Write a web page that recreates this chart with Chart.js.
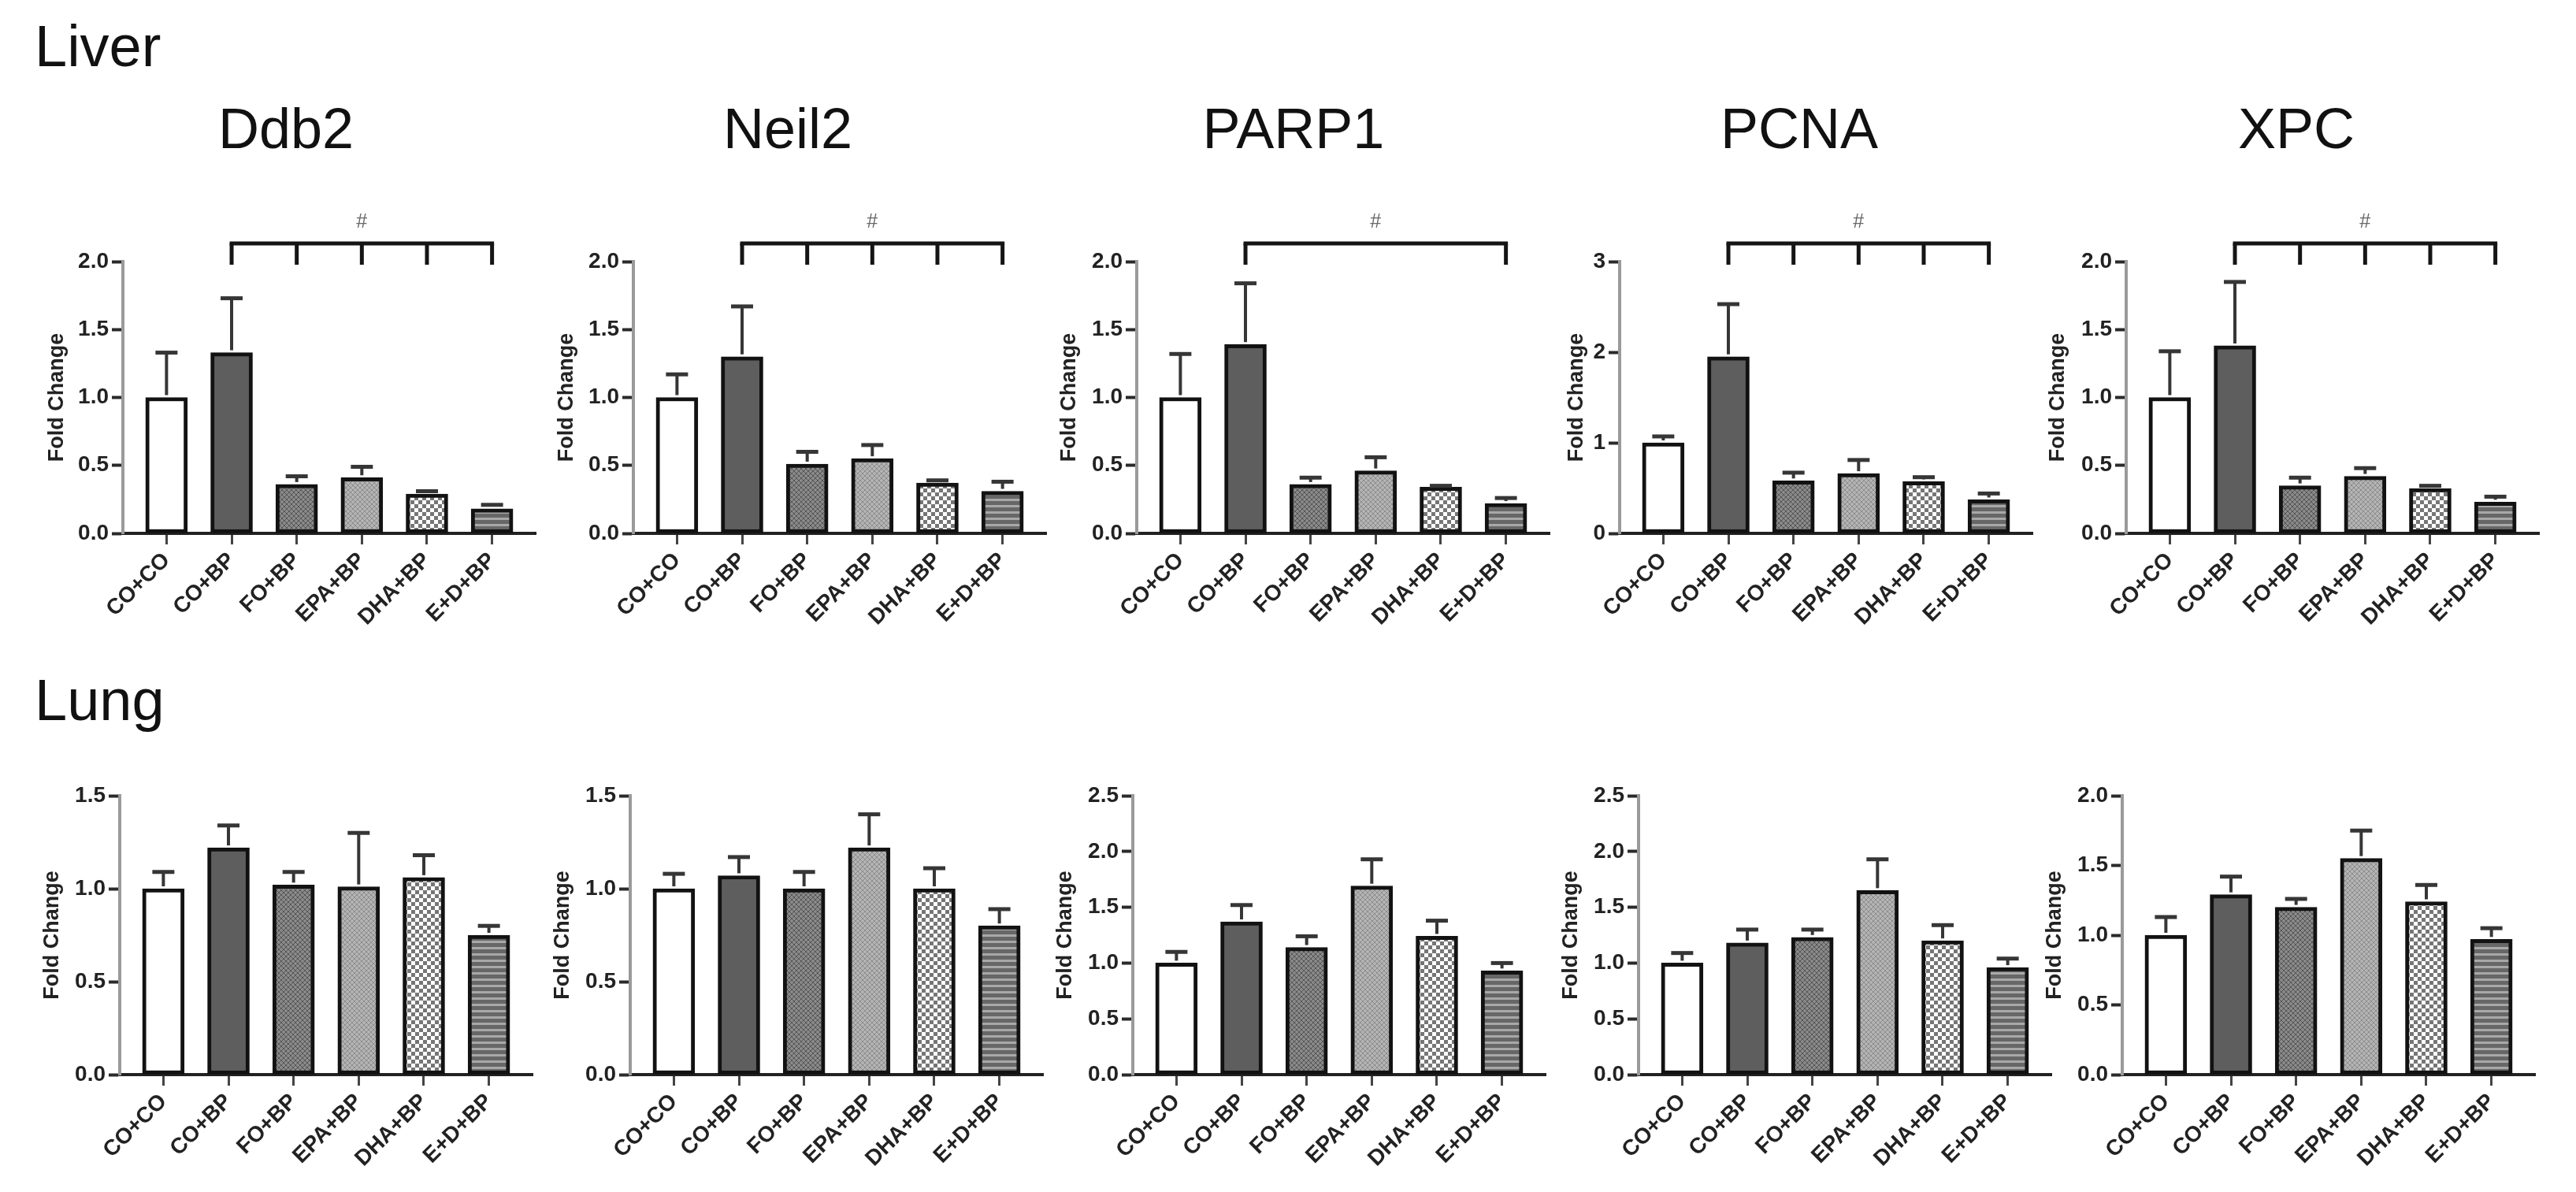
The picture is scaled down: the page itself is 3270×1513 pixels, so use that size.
<!DOCTYPE html>
<html>
<head>
<meta charset="utf-8">
<script src="https://cdn.jsdelivr.net/npm/chart.js@4.4.1/dist/chart.umd.min.js"></script>
<style>
  html, body { margin: 0; padding: 0; background: #ffffff; }
  body { width: 3270px; height: 1513px; position: relative; overflow: hidden;
         font-family: "Liberation Sans", Arial, Helvetica, sans-serif; }
  .tissue { position: absolute; left: 44px; font-size: 74px; line-height: 74px; color: #111; }
  canvas { position: absolute; }
</style>
</head>
<body>
<div class="tissue" style="top:22px">Liver</div>
<div class="tissue" style="top:852px">Lung</div>

<canvas id="liver-ddb2"></canvas>
<canvas id="liver-neil2"></canvas>
<canvas id="liver-parp1"></canvas>
<canvas id="liver-pcna"></canvas>
<canvas id="liver-xpc"></canvas>
<canvas id="lung-ddb2"></canvas>
<canvas id="lung-neil2"></canvas>
<canvas id="lung-parp1"></canvas>
<canvas id="lung-pcna"></canvas>
<canvas id="lung-xpc"></canvas>

<script>
// Treatment groups (x axis)
const groups = ['CO+CO', 'CO+BP', 'FO+BP', 'EPA+BP', 'DHA+BP', 'E+D+BP'];

// Liver - mean fold change and SEM
const liverDdb2Mean  = [1.00, 1.33, 0.36, 0.41, 0.29, 0.18];
const liverDdb2Sem   = [0.33, 0.40, 0.06, 0.08, 0.02, 0.03];
const liverNeil2Mean = [1.00, 1.30, 0.51, 0.55, 0.37, 0.31];
const liverNeil2Sem  = [0.17, 0.37, 0.09, 0.10, 0.02, 0.07];
const liverParp1Mean = [1.00, 1.39, 0.36, 0.46, 0.34, 0.22];
const liverParp1Sem  = [0.32, 0.45, 0.05, 0.10, 0.01, 0.04];
const liverPcnaMean  = [1.00, 1.95, 0.58, 0.66, 0.57, 0.37];
const liverPcnaSem   = [0.07, 0.58, 0.09, 0.15, 0.05, 0.07];
const liverXpcMean   = [1.00, 1.38, 0.35, 0.42, 0.33, 0.23];
const liverXpcSem    = [0.34, 0.47, 0.06, 0.06, 0.02, 0.04];

// Lung - mean fold change and SEM
const lungDdb2Mean  = [1.00, 1.22, 1.02, 1.01, 1.06, 0.75];
const lungDdb2Sem   = [0.09, 0.12, 0.07, 0.29, 0.12, 0.05];
const lungNeil2Mean = [1.00, 1.07, 1.00, 1.22, 1.00, 0.80];
const lungNeil2Sem  = [0.08, 0.10, 0.09, 0.18, 0.11, 0.09];
const lungParp1Mean = [1.00, 1.37, 1.14, 1.69, 1.24, 0.93];
const lungParp1Sem  = [0.10, 0.15, 0.10, 0.24, 0.14, 0.07];
const lungPcnaMean  = [1.00, 1.18, 1.23, 1.65, 1.20, 0.96];
const lungPcnaSem   = [0.09, 0.12, 0.07, 0.28, 0.14, 0.08];
const lungXpcMean   = [1.00, 1.29, 1.20, 1.55, 1.24, 0.97];
const lungXpcSem    = [0.13, 0.13, 0.06, 0.20, 0.12, 0.08];

// Y axis ranges [max, step]
const liverAxes = { ddb2: [2, 0.5], neil2: [2, 0.5], parp1: [2, 0.5], pcna: [3, 1], xpc: [2, 0.5] };
const lungAxes  = { ddb2: [1.5, 0.5], neil2: [1.5, 0.5], parp1: [2.5, 0.5], pcna: [2.5, 0.5], xpc: [2, 0.5] };

// Significance brackets (group indexes) on the liver panels
const bracketAll = [1, 2, 3, 4, 5];
const bracketEnds = [1, 5];

Chart.defaults.font.family = '"Liberation Sans", Arial, Helvetica, sans-serif';
Chart.defaults.color = '#222222';

// Layout constants
const plotWidth = 524;
const xAxisHeight = 130;
const edgePad = 30;
const catPad = 0.67;

// Bar fills: white, dark grey, hatched, light hatched, checker, stripes
function makePattern(size, draw) {
    const c = document.createElement('canvas');
    c.width = size[0];
    c.height = size[1];
    const g = c.getContext('2d');
    draw(g, size[0], size[1]);
    return g.createPattern(c, 'repeat');
}

function hatch(base, line) {
    return makePattern([6, 6], (g, w, h) => {
        g.fillStyle = base;
        g.fillRect(0, 0, w, h);
        g.fillStyle = line;
        for (let i = 0; i < 6; i++) {
            g.fillRect(i, i, 1, 1);
            g.fillRect(5 - i, i, 1, 1);
        }
    });
}

const barFills = [
    '#ffffff',
    '#5e5e5e',
    hatch('#8a8a8a', '#555555'),
    hatch('#b4b4b4', '#8c8c8c'),
    makePattern([10, 10], (g) => {
        g.fillStyle = '#ffffff';
        g.fillRect(0, 0, 10, 10);
        g.fillStyle = '#767676';
        g.fillRect(0, 0, 5, 5);
        g.fillRect(5, 5, 5, 5);
    }),
    makePattern([4, 8], (g) => {
        g.fillStyle = '#676767';
        g.fillRect(0, 0, 4, 5);
        g.fillStyle = '#a8a8a8';
        g.fillRect(0, 5, 4, 3);
    })
];

// Error bars (upper SEM only, with cap)
const errorBarsPlugin = {
    id: 'errorBars',
    afterDatasetsDraw(chart, args, opts) {
        const { ctx } = chart;
        const x = chart.scales.x;
        const y = chart.scales.y;
        const points = chart.data.datasets[0].data;
        ctx.save();
        ctx.strokeStyle = '#363636';
        points.forEach((p, i) => {
            const px = x.getPixelForValue(p.x);
            const yBar = y.getPixelForValue(p.y);
            const yTop = y.getPixelForValue(p.y + opts.sem[i]);
            ctx.lineWidth = 4;
            ctx.beginPath();
            ctx.moveTo(px, yBar - 3);
            ctx.lineTo(px, yTop);
            ctx.stroke();
            ctx.lineWidth = 5;
            ctx.beginPath();
            ctx.moveTo(px - 14, yTop);
            ctx.lineTo(px + 14, yTop);
            ctx.stroke();
        });
        ctx.restore();
    }
};

// Bracket with "#" above the liver panels
const bracketPlugin = {
    id: 'bracket',
    afterDraw(chart, args, opts) {
        if (!opts.groups) return;
        const { ctx, chartArea } = chart;
        const x = chart.scales.x;
        const xs = opts.groups.map(i => x.getPixelForValue(i));
        const yLine = chartArea.top - 23;
        const yEnd = chartArea.top + 4;
        ctx.save();
        ctx.strokeStyle = '#151515';
        ctx.lineWidth = 5;
        ctx.lineCap = 'square';
        ctx.beginPath();
        ctx.moveTo(xs[0], yLine);
        ctx.lineTo(xs[xs.length - 1], yLine);
        ctx.stroke();
        ctx.lineCap = 'butt';
        xs.forEach(px => {
            ctx.beginPath();
            ctx.moveTo(px, yLine);
            ctx.lineTo(px, yEnd);
            ctx.stroke();
        });
        ctx.fillStyle = '#666666';
        ctx.font = '25px "Liberation Sans", Arial, sans-serif';
        ctx.textAlign = 'center';
        ctx.textBaseline = 'middle';
        ctx.fillText('#', (xs[0] + xs[xs.length - 1]) / 2, yLine - 27);
        ctx.restore();
    }
};

// Build one bar panel
function createPanel(canvasId, cfg) {
    const endX = cfg.axisX + plotWidth;
    const yWidth = cfg.gene ? 2 * cfg.axisX + plotWidth - 2 * cfg.titleCenter : 110;
    const left = cfg.axisX - yWidth - edgePad;
    const width = endX + edgePad - left;
    const height = cfg.chartBottom + xAxisHeight + 5 - cfg.canvasTop;
    const yTitlePad = yWidth - cfg.titleGap - 16.2;

    const canvas = document.getElementById(canvasId);
    canvas.width = width;
    canvas.height = height;
    canvas.style.left = left + 'px';
    canvas.style.top = cfg.canvasTop + 'px';

    const titleTop = 25;
    const titleBottom = cfg.chartTop - cfg.canvasTop - titleTop - 72 * 1.2;

    return new Chart(canvas, {
        type: 'bar',
        data: {
            datasets: [{
                data: cfg.means.map((v, i) => ({ x: i, y: v })),
                backgroundColor: barFills,
                borderColor: '#121212',
                borderWidth: 5,
                borderSkipped: false,
                barThickness: 53
            }]
        },
        options: {
            responsive: false,
            animation: false,
            layout: {
                padding: {
                    left: edgePad,
                    right: edgePad,
                    top: cfg.gene ? 0 : cfg.chartTop - cfg.canvasTop,
                    bottom: 5
                }
            },
            plugins: {
                legend: { display: false },
                tooltip: { enabled: false },
                title: {
                    display: !!cfg.gene,
                    text: cfg.gene || '',
                    color: '#111111',
                    font: { size: 72, weight: 'normal', lineHeight: 1.2 },
                    padding: { top: titleTop, bottom: titleBottom }
                },
                errorBars: { sem: cfg.sems },
                bracket: { groups: cfg.bracket || null }
            },
            scales: {
                x: {
                    type: 'linear',
                    offset: false,
                    min: -catPad,
                    max: groups.length - 1 + catPad,
                    afterFit: (scale) => { scale.height = xAxisHeight; },
                    border: { display: true, color: '#222222', width: 4 },
                    grid: {
                        display: true,
                        offset: false,
                        drawOnChartArea: false,
                        drawTicks: true,
                        tickLength: 14,
                        tickColor: '#444444',
                        tickWidth: 3
                    },
                    ticks: {
                        stepSize: 1,
                        includeBounds: false,
                        autoSkip: false,
                        minRotation: 45,
                        maxRotation: 45,
                        padding: 4,
                        color: '#222222',
                        font: { size: 28, weight: 'bold' },
                        callback: (v) => groups[v]
                    }
                },
                y: {
                    min: 0,
                    max: cfg.axis[0],
                    afterFit: (scale) => { scale.width = yWidth; },
                    border: { display: true, color: '#9a9a9a', width: 4 },
                    grid: {
                        display: true,
                        drawOnChartArea: false,
                        drawTicks: true,
                        tickLength: 14,
                        tickColor: '#2a2a2a',
                        tickWidth: 4
                    },
                    ticks: {
                        stepSize: cfg.axis[1],
                        padding: 4,
                        color: '#222222',
                        font: { size: 28, weight: 'bold' },
                        callback: (v) => cfg.axis[1] < 1 ? v.toFixed(1) : String(v)
                    },
                    title: {
                        display: true,
                        text: 'Fold Change',
                        color: '#222222',
                        font: { size: 27, weight: 'bold', lineHeight: 1.2 },
                        padding: { top: yTitlePad, bottom: 0 }
                    }
                }
            }
        },
        plugins: [errorBarsPlugin, bracketPlugin]
    });
}

// Liver row
const liverRow = { canvasTop: 100, chartTop: 332, chartBottom: 677 };
createPanel('liver-ddb2',  { ...liverRow, gene: 'Ddb2',  axisX: 156,  titleCenter: 363,  titleGap: 83, means: liverDdb2Mean,  sems: liverDdb2Sem,  axis: liverAxes.ddb2,  bracket: bracketAll });
createPanel('liver-neil2', { ...liverRow, gene: 'Neil2', axisX: 804,  titleCenter: 1000, titleGap: 84, means: liverNeil2Mean, sems: liverNeil2Sem, axis: liverAxes.neil2, bracket: bracketAll });
createPanel('liver-parp1', { ...liverRow, gene: 'PARP1', axisX: 1443, titleCenter: 1642, titleGap: 85, means: liverParp1Mean, sems: liverParp1Sem, axis: liverAxes.parp1, bracket: bracketEnds });
createPanel('liver-pcna',  { ...liverRow, gene: 'PCNA',  axisX: 2056, titleCenter: 2284, titleGap: 54, means: liverPcnaMean,  sems: liverPcnaSem,  axis: liverAxes.pcna,  bracket: bracketAll });
createPanel('liver-xpc',   { ...liverRow, gene: 'XPC',   axisX: 2699, titleCenter: 2915, titleGap: 86, means: liverXpcMean,   sems: liverXpcSem,   axis: liverAxes.xpc,   bracket: bracketAll });

// Lung row
const lungRow = { canvasTop: 965, chartTop: 1010, chartBottom: 1364 };
createPanel('lung-ddb2',  { ...lungRow, axisX: 152,  titleGap: 85, means: lungDdb2Mean,  sems: lungDdb2Sem,  axis: lungAxes.ddb2 });
createPanel('lung-neil2', { ...lungRow, axisX: 800,  titleGap: 85, means: lungNeil2Mean, sems: lungNeil2Sem, axis: lungAxes.neil2 });
createPanel('lung-parp1', { ...lungRow, axisX: 1438, titleGap: 85, means: lungParp1Mean, sems: lungParp1Sem, axis: lungAxes.parp1 });
createPanel('lung-pcna',  { ...lungRow, axisX: 2080, titleGap: 85, means: lungPcnaMean,  sems: lungPcnaSem,  axis: lungAxes.pcna });
createPanel('lung-xpc',   { ...lungRow, axisX: 2694, titleGap: 85, means: lungXpcMean,   sems: lungXpcSem,   axis: lungAxes.xpc });
</script>
</body>
</html>
